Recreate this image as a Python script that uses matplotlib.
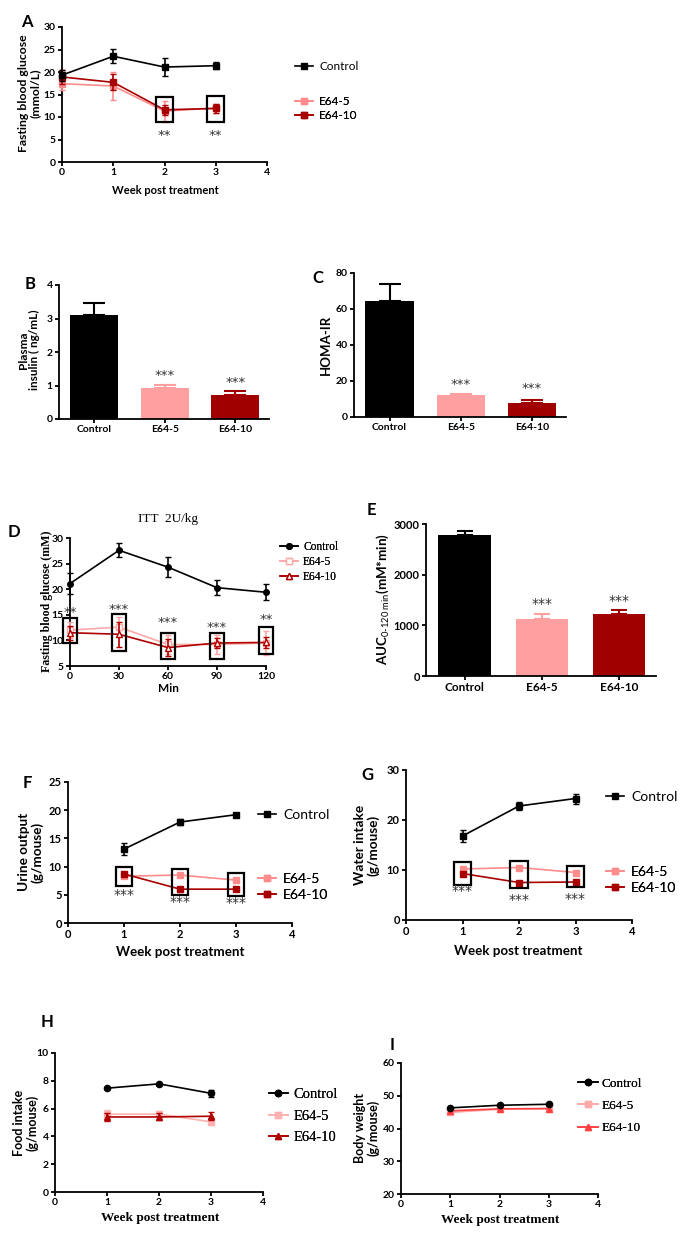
import matplotlib
matplotlib.use('Agg')
import matplotlib.pyplot as plt
from matplotlib.lines import Line2D
from matplotlib.patches import Rectangle
import numpy as np

# ---------------- data ----------------
groups = ['Control', 'E64-5', 'E64-10']

# A: fasting blood glucose (mmol/L)
A_weeks = [0, 1, 2, 3]
A_ctrl = [19.3, 23.5, 21.1, 21.4]
A_ctrl_err = [1.2, 1.6, 2.0, 0.8]
A_e5 = [17.4, 16.9, 11.3, 12.0]
A_e5_err = [1.5, 3.1, 2.3, 1.0]
A_e10 = [18.9, 17.7, 11.6, 11.9]
A_e10_err = [1.5, 1.8, 1.1, 1.0]
A_box_x = [2, 3]
A_box_lo = [8.8, 9.0]
A_box_hi = [14.5, 14.7]
A_star = ['**', '**']
A_star_y = [6.0, 6.0]

# B: plasma insulin (ng/mL)
B_vals = [3.11, 0.94, 0.71]
B_err = [0.36, 0.07, 0.12]
B_star = ['', '***', '***']
B_star_y = [0, 1.29, 1.08]

# C: HOMA-IR
C_vals = [64.2, 12.1, 8.0]
C_err = [9.7, 0.9, 1.7]
C_star = ['', '***', '***']
C_star_y = [0, 17.8, 16.1]

# D: ITT 2U/kg
D_min = [0, 30, 60, 90, 120]
D_ctrl = [21.1, 27.6, 24.3, 20.3, 19.4]
D_ctrl_err = [2.0, 1.4, 2.0, 1.4, 1.6]
D_e5 = [12.0, 12.6, 9.2, 9.2, 9.5]
D_e5_err = [1.5, 2.0, 1.8, 1.8, 2.3]
D_e10 = [11.5, 11.2, 8.6, 9.5, 9.6]
D_e10_err = [1.4, 2.4, 1.6, 0.9, 1.0]
D_box_lo = [9.4, 7.9, 6.3, 6.3, 7.3]
D_box_hi = [14.4, 15.1, 11.5, 11.5, 12.6]
D_star = ['**', '***', '***', '***', '**']
D_star_y = [15.4, 16.0, 13.5, 12.6, 14.0]

# E: AUC 0-120 min
E_vals = [2790, 1125, 1217]
E_err = [72, 100, 86]
E_star = ['', '***', '***']
E_star_y = [0, 1421, 1480]

# F: urine output (g/mouse)
F_weeks = [1, 2, 3]
F_ctrl = [13.1, 17.9, 19.2]
F_ctrl_err = [1.0, 0.6, 0.3]
F_e5 = [8.3, 8.5, 7.6]
F_e5_err = [0.4, 0.3, 0.3]
F_e10 = [8.7, 6.0, 6.0]
F_e10_err = [0.4, 0.3, 0.3]
F_box_lo = [6.6, 5.0, 4.8]
F_box_hi = [9.9, 9.5, 8.8]
F_star = ['***', '***', '***']
F_star_y = [5.0, 3.8, 3.5]

# G: water intake (g/mouse)
G_weeks = [1, 2, 3]
G_ctrl = [16.8, 22.8, 24.3]
G_ctrl_err = [1.2, 0.8, 1.0]
G_e5 = [10.2, 10.5, 9.5]
G_e5_err = [0.4, 0.4, 0.4]
G_e10 = [9.3, 7.5, 7.6]
G_e10_err = [0.4, 0.3, 0.3]
G_box_lo = [7.0, 6.5, 6.7]
G_box_hi = [11.7, 11.9, 10.9]
G_star = ['***', '***', '***']
G_star_y = [5.7, 4.0, 4.3]

# H: food intake (g/mouse)
H_weeks = [1, 2, 3]
H_ctrl = [7.47, 7.78, 7.10]
H_ctrl_err = [0.05, 0.05, 0.25]
H_e5 = [5.6, 5.6, 5.05]
H_e5_err = [0.3, 0.2, 0.15]
H_e10 = [5.4, 5.4, 5.45]
H_e10_err = [0.3, 0.25, 0.3]

# I: body weight (g/mouse)
I_weeks = [1, 2, 3]
I_ctrl = [46.3, 47.1, 47.4]
I_e5 = [44.9, 45.9, 46.0]
I_e10 = [45.4, 46.0, 46.1]

# ---------------- style ----------------
W, H = 691, 1236
SANS = ['Lato', 'DejaVu Sans']
SERIF = ['Liberation Serif', 'DejaVu Serif']
plt.rcParams['font.family'] = SANS
plt.rcParams['mathtext.fontset'] = 'custom'
plt.rcParams['mathtext.rm'] = 'Lato'
plt.rcParams['mathtext.bf'] = 'Lato:bold'
plt.rcParams['mathtext.it'] = 'Lato:italic'

BLACK = 'black'
PINK = '#FF8C8C'
DRED = '#A80000'
BAR_PINK = '#FFA0A0'
BAR_RED = '#A00000'
STAR_C = '#333333'

fig = plt.figure(figsize=(W / 100, H / 100), dpi=100)


def axes_px(x0, x1, y0, y1):
    return fig.add_axes([x0 / W, 1 - y1 / H, (x1 - x0) / W, (y1 - y0) / H])


def style(ax, fs=7.5, family=SANS):
    for s in ['top', 'right']:
        ax.spines[s].set_visible(False)
    for s in ['left', 'bottom']:
        ax.spines[s].set_linewidth(1.3)
    ax.tick_params(direction='out', width=1.3, length=3, labelsize=fs, pad=1.5)
    for lab in ax.get_xticklabels() + ax.get_yticklabels():
        lab.set_fontweight('bold')
        lab.set_family(family)


def ftext(x, y, s, **kw):
    return fig.text(x / W, 1 - y / H, s, **kw)


def letter(x, y, s):
    ftext(x, y, s, fontsize=12, weight='bold', ha='center', va='center')


def ylab(x, y, s, fs=8.5, family=SANS):
    ftext(x, y, s, fontsize=fs, weight='bold', rotation=90, ha='center', va='center',
          multialignment='center', family=family, linespacing=1.1)


def xlab(x, y, s, fs=8, family=SANS):
    ftext(x, y, s, fontsize=fs, weight='bold', ha='center', va='center', family=family)


def series(ax, x, y, e, color, marker, mfc=None, ms=4.5, lw=1.2, z=3, cap=2.5):
    ax.errorbar(x, y, yerr=e, color=color, marker=marker, ms=ms,
                mfc=(mfc if mfc is not None else color), mec=color, mew=1.0,
                lw=lw, elinewidth=lw, capsize=cap, capthick=lw, clip_on=False, zorder=z)


def legend(ax, handles, labels, x, ycenter, fs, family, hl, pad, spacing):
    lg = ax.legend(handles, labels, loc='center left', bbox_to_anchor=(x / W, 1 - ycenter / H),
                   bbox_transform=fig.transFigure, frameon=False, borderpad=0,
                   borderaxespad=0, handlelength=hl, handletextpad=pad,
                   labelspacing=spacing, prop={'family': family, 'size': fs})
    ax.add_artist(lg)
    return lg


def h(color, marker, mfc=None, lw=1.2, ms=4.5):
    return Line2D([], [], color=color, marker=marker, lw=lw, ms=ms,
                  mfc=(mfc if mfc is not None else color), mec=color)


def boxes(ax, xs, lo, hi, hw):
    for x, a, b in zip(xs, lo, hi):
        ax.add_patch(Rectangle((x - hw, a), 2 * hw, b - a, fill=False, ec='black',
                               lw=1.6, zorder=5, clip_on=False))


def stars(ax, xs, ys, ss, fs=9.5):
    for x, y, s in zip(xs, ys, ss):
        if s:
            ax.text(x, y, s, ha='center', va='center', fontsize=fs, color=STAR_C,
                    family='DejaVu Sans', zorder=6)


def week_axis(ax):
    ax.set_xlim(0, 4)
    ax.set_xticks([0, 1, 2, 3, 4])


def bars(ax, vals, err, cols, capsize=8):
    pos = np.arange(len(vals))
    ax.bar(pos, vals, width=0.68, color=cols, zorder=2)
    for p, v, e, c in zip(pos, vals, err, cols):
        ax.errorbar([p], [v], yerr=[[0], [e]], fmt='none', ecolor=c, elinewidth=1.5,
                    capsize=capsize, capthick=1.5, zorder=1)
    ax.set_xticks(pos)
    ax.set_xticklabels(groups)
    ax.set_xlim(-0.5, len(vals) - 0.52)
    ax.tick_params(axis='x', length=0, pad=4)
    return pos


# ---------------- A ----------------
ax = axes_px(62, 267, 27, 162)
series(ax, A_weeks, A_e5, A_e5_err, PINK, 's')
series(ax, A_weeks, A_e10, A_e10_err, DRED, 's', z=4)
series(ax, A_weeks, A_ctrl, A_ctrl_err, BLACK, 's', z=5)
boxes(ax, A_box_x, A_box_lo, A_box_hi, 0.17)
stars(ax, A_box_x, A_star_y, A_star)
week_axis(ax)
ax.set_ylim(0, 30)
ax.set_yticks([0, 5, 10, 15, 20, 25, 30])
style(ax)
letter(27, 22, 'A')
ylab(29, 93, 'Fasting blood glucose\n(mmol/L)', fs=8.8)
xlab(165, 190, 'Week post treatment', fs=8)
legend(ax, [h(BLACK, 's')], ['Control'], 295, 67, 8.5, SANS, 1.5, 0.55, 0.3)
legend(ax, [h(PINK, 's'), h(DRED, 's')], ['E64-5', 'E64-10'], 295, 108.5, 8.5, SANS, 1.5, 0.55, 0.3)

# ---------------- B ----------------
ax = axes_px(59, 269, 285, 419)
pos = bars(ax, B_vals, B_err, [BLACK, BAR_PINK, BAR_RED])
stars(ax, pos, B_star_y, B_star)
ax.set_ylim(0, 4)
ax.set_yticks([0, 1, 2, 3, 4])
style(ax, fs=7.5)
letter(30, 284, 'B')
ylab(29, 350, 'Plasma\ninsulin ( ng/mL)', fs=8.5)

# ---------------- C ----------------
ax = axes_px(354, 566, 273, 417)
pos = bars(ax, C_vals, C_err, [BLACK, BAR_PINK, BAR_RED])
stars(ax, pos, C_star_y, C_star)
ax.set_ylim(0, 80)
ax.set_yticks([0, 20, 40, 60, 80])
style(ax, fs=7.5)
letter(318, 278, 'C')
ylab(326, 345, 'HOMA-IR', fs=9.5)

# ---------------- D ----------------
ax = axes_px(70, 266, 538, 666)
series(ax, D_min, D_e5, D_e5_err, '#FFA8A8', 's', mfc='white', ms=4, cap=2)
series(ax, D_min, D_e10, D_e10_err, '#B00000', '^', mfc='white', ms=4, z=4, cap=2)
series(ax, D_min, D_ctrl, D_ctrl_err, BLACK, 'o', ms=4, z=5, cap=2.5)
boxes(ax, D_min, D_box_lo, D_box_hi, 4.5)
stars(ax, D_min, D_star_y, D_star)
ax.set_xlim(0, 120)
ax.set_xticks([0, 30, 60, 90, 120])
ax.set_ylim(5, 30)
ax.set_yticks([5, 10, 15, 20, 25, 30])
style(ax)
letter(14, 532, 'D')
ftext(168, 519, 'ITT  2U/kg', fontsize=9.5, family=SERIF, ha='center', va='center')
ylab(47, 601, 'Fasting blood glucose (mM)', fs=8.6, family=SERIF)
xlab(168, 689, 'Min', fs=8.5)
legend(ax, [h(BLACK, 'o', ms=4), h('#FFA8A8', 's', mfc='white', ms=4), h('#B00000', '^', mfc='white', ms=4)],
       groups, 280, 562, 8.3, SERIF, 1.6, 0.4, 0.3)

# ---------------- E ----------------
ax = axes_px(426, 656, 524, 676)
pos = bars(ax, E_vals, E_err, [BLACK, BAR_PINK, BAR_RED], capsize=6)
stars(ax, pos, E_star_y, E_star, fs=10)
ax.set_ylim(0, 3000)
ax.set_yticks([0, 1000, 2000, 3000])
style(ax, fs=8)
ax.tick_params(axis='x', labelsize=8.5)
letter(371, 510, 'E')
ylab(383, 599, r'$\mathbf{AUC}_{\mathrm{0\text{-}120\ min}}\mathbf{(mM{*}min)}$', fs=9.6)

# ---------------- F ----------------
ax = axes_px(68, 292, 782, 923)
series(ax, F_weeks, F_e5, F_e5_err, PINK, 's')
series(ax, F_weeks, F_e10, F_e10_err, DRED, 's', z=4)
series(ax, F_weeks, F_ctrl, F_ctrl_err, BLACK, 's', z=5)
boxes(ax, F_weeks, F_box_lo, F_box_hi, 0.15)
stars(ax, F_weeks, F_star_y, F_star, fs=10)
week_axis(ax)
ax.set_ylim(0, 25)
ax.set_yticks([0, 5, 10, 15, 20, 25])
style(ax, fs=8)
letter(27, 783, 'F')
ylab(31, 852, 'Urine output\n(g/mouse)', fs=9.8)
xlab(180, 952, 'Week post treatment', fs=9.6)
legend(ax, [h(BLACK, 's')], ['Control'], 258, 815, 10, SANS, 1.3, 0.5, 0.3)
legend(ax, [h(PINK, 's'), h(DRED, 's')], ['E64-5', 'E64-10'], 258, 887, 10, SANS, 1.3, 0.5, 0.3)

# ---------------- G ----------------
ax = axes_px(406, 632, 770, 920)
series(ax, G_weeks, G_e5, G_e5_err, PINK, 's')
series(ax, G_weeks, G_e10, G_e10_err, DRED, 's', z=4)
series(ax, G_weeks, G_ctrl, G_ctrl_err, BLACK, 's', z=5)
boxes(ax, G_weeks, G_box_lo, G_box_hi, 0.155)
stars(ax, G_weeks, G_star_y, G_star, fs=10)
week_axis(ax)
ax.set_ylim(0, 30)
ax.set_yticks([0, 10, 20, 30])
style(ax, fs=8)
letter(367, 775, 'G')
ylab(367, 845, 'Water intake\n(g/mouse)', fs=9.8)
xlab(518, 951, 'Week post treatment', fs=9.6)
legend(ax, [h(BLACK, 's')], ['Control'], 606, 797, 10, SANS, 1.3, 0.5, 0.3)
legend(ax, [h(PINK, 's'), h(DRED, 's')], ['E64-5', 'E64-10'], 606, 880, 10, SANS, 1.3, 0.5, 0.3)

# ---------------- H ----------------
ax = axes_px(55, 263, 1053, 1192)
series(ax, H_weeks, H_e5, H_e5_err, '#FFB0B0', 's')
series(ax, H_weeks, H_e10, H_e10_err, '#B00000', '^', z=4)
series(ax, H_weeks, H_ctrl, H_ctrl_err, BLACK, 'o', z=5)
week_axis(ax)
ax.set_ylim(0, 10)
ax.set_yticks([0, 2, 4, 6, 8, 10])
style(ax, fs=7.5)
letter(47, 1022, 'H')
ylab(26, 1123, 'Food intake\n(g/mouse)', fs=9)
xlab(160, 1218, 'Week post treatment', fs=9.5, family=SERIF)
legend(ax, [h(BLACK, 'o'), h('#FFB0B0', 's'), h('#B00000', '^')], groups,
       269, 1116, 10.5, SERIF, 1.3, 0.4, 0.55)

# ---------------- I ----------------
ax = axes_px(401, 598, 1063, 1194)
series(ax, I_weeks, I_e5, None, '#FFA8A8', 's')
series(ax, I_weeks, I_e10, None, '#FF4040', '^', z=4)
series(ax, I_weeks, I_ctrl, None, BLACK, 'o', z=5)
week_axis(ax)
ax.set_ylim(20, 60)
ax.set_yticks([20, 30, 40, 50, 60])
style(ax, fs=7.5)
letter(392, 1045, 'I')
ylab(367, 1128, 'Body weight\n(g/mouse)', fs=9)
xlab(500, 1220, 'Week post treatment', fs=9.5, family=SERIF)
legend(ax, [h(BLACK, 'o'), h('#FFA8A8', 's'), h('#FF4040', '^')], groups,
       578, 1106, 9.5, SERIF, 1.5, 0.3, 0.75)

fig.savefig('out.png', dpi=100)
